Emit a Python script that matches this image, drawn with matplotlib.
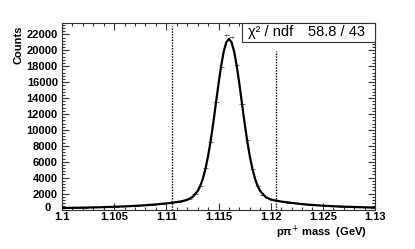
import numpy as np
import matplotlib
matplotlib.use("Agg")
import matplotlib.pyplot as plt
from matplotlib.ticker import MultipleLocator, FixedLocator, FixedFormatter
from matplotlib.patches import Rectangle

plt.rcParams['font.family'] = ['Liberation Sans', 'DejaVu Sans']

# ---- data ----
bin_lo = 1.100
bin_width = 0.0005
counts = [190, 212, 208, 231, 236, 262, 265, 292, 300, 335,
          344, 385, 398, 446, 465, 522, 551, 621, 657, 745,
          790, 902, 970, 1140, 1330, 1890, 2910, 5180, 8520, 13450,
          17880, 21900, 21700, 18150, 13200, 8760, 5040, 3010, 1820, 1400,
          1180, 1060, 950, 860, 790, 700, 650, 590, 540, 505,
          460, 432, 395, 372, 340, 322, 300, 281, 268, 249]

fit_x = [1.1000, 1.1020, 1.1040, 1.1060, 1.1070, 1.1080, 1.1090, 1.1100,
         1.1105, 1.1110, 1.1115, 1.1120, 1.1125, 1.1130, 1.11325, 1.1135,
         1.11375, 1.1140, 1.11425, 1.1145, 1.11475, 1.1150, 1.11525, 1.1155,
         1.11575, 1.1160, 1.11625, 1.1165, 1.11675, 1.1170, 1.11725, 1.1175,
         1.11775, 1.1180, 1.11825, 1.1185, 1.11875, 1.1190, 1.1195, 1.1200,
         1.1205, 1.1210, 1.1220, 1.1230, 1.1240, 1.1250, 1.1260, 1.1280, 1.1300]
fit_y = [190, 234, 296, 390, 455, 536, 638, 768,
         845, 934, 1046, 1219, 1558, 2308, 2957, 3871,
         5104, 6696, 8638, 10887, 13319, 15769, 18015, 19832,
         21017, 21430, 21017, 19832, 18015, 15769, 13319, 10887,
         8638, 6696, 5104, 3871, 2957, 2320, 1590, 1250,
         1120, 1000, 830, 680, 570, 480, 410, 310, 240]

cut_lines = [1.1105, 1.1205]
cut_tops = [23000, 19900]

chi2_label = "χ² / ndf"
chi2_value = "58.8 / 43"
x_title = "pπ$^{+}$ mass  (GeV)"
y_title = "Counts"
xticks = [1.100, 1.105, 1.110, 1.115, 1.120, 1.125, 1.130]
xtick_labels = ["1.1", "1.105", "1.11", "1.115", "1.12", "1.125", "1.13"]
yticks = list(range(0, 22001, 2000))
ytick_labels = [str(v) for v in yticks]

# ---- figure ----
W, H = 415, 249
fig = plt.figure(figsize=(W / 100, H / 100), dpi=100)
ax = fig.add_axes([62 / W, 39.5 / H, 313 / W, 186.5 / H])

centers = bin_lo + bin_width * (np.arange(len(counts)) + 0.5)
cnt = np.array(counts, dtype=float)
ax.errorbar(centers, cnt, xerr=bin_width / 2, yerr=np.sqrt(cnt), fmt='none',
            ecolor='#555555', elinewidth=0.6, capsize=0, zorder=2)
ax.plot(fit_x, fit_y, color='black', lw=1.6, zorder=3)

for xc, top in zip(cut_lines, cut_tops):
    ax.plot([xc, xc], [0, top], color='black', lw=1.0, ls=(0, (1, 1)), zorder=2)

ax.set_xlim(1.1, 1.13)
ax.set_ylim(0, 23430)
ax.xaxis.set_major_locator(FixedLocator(xticks))
ax.xaxis.set_major_formatter(FixedFormatter(xtick_labels))
ax.xaxis.set_minor_locator(MultipleLocator(0.001))
ax.yaxis.set_major_locator(FixedLocator(yticks))
# the "0" label sits a little to the left (drawn separately below)
ax.yaxis.set_major_formatter(FixedFormatter([""] + ytick_labels[1:]))
ax.yaxis.set_minor_locator(MultipleLocator(400))
ax.tick_params(which='both', direction='in', top=True, right=True,
               labelsize=8, width=0.8, color='#333333')
ax.tick_params(axis='x', pad=2)
ax.tick_params(axis='y', pad=3)
ax.tick_params(which='major', length=5)
ax.tick_params(which='minor', length=2.5)
for lab in ax.get_xticklabels() + ax.get_yticklabels():
    lab.set_fontweight('bold')
for sp in ax.spines.values():
    sp.set_linewidth(0.8)
    sp.set_color('#333333')

fig.text(51 / W, 1 - 208 / H, ytick_labels[0], ha='right', va='center',
         fontsize=8, fontweight='bold')

fig.text(367 / W, 1 - 232 / H, x_title, ha='right', va='center',
         fontsize=8, fontweight='bold')
fig.text(19 / W, 1 - 25 / H, y_title, ha='center', va='top', rotation=90,
         fontsize=8, fontweight='bold')

# chi2 box
bx0 = (241.7 - 62) / 313
by0 = (209.5 - 41.7) / 186.5
ax.add_patch(Rectangle((bx0, by0), 1 - bx0, 1 - by0, transform=ax.transAxes,
                       facecolor='white', edgecolor='#333333', lw=0.8,
                       zorder=5, clip_on=False))
ty = (by0 + 1) / 2
ax.text((248 - 62) / 313, ty, chi2_label, transform=ax.transAxes,
        ha='left', va='center', fontsize=10.5, zorder=6)
ax.text((365 - 62) / 313, ty, chi2_value, transform=ax.transAxes,
        ha='right', va='center', fontsize=10.5, zorder=6)

fig.savefig("out.png", dpi=100)
